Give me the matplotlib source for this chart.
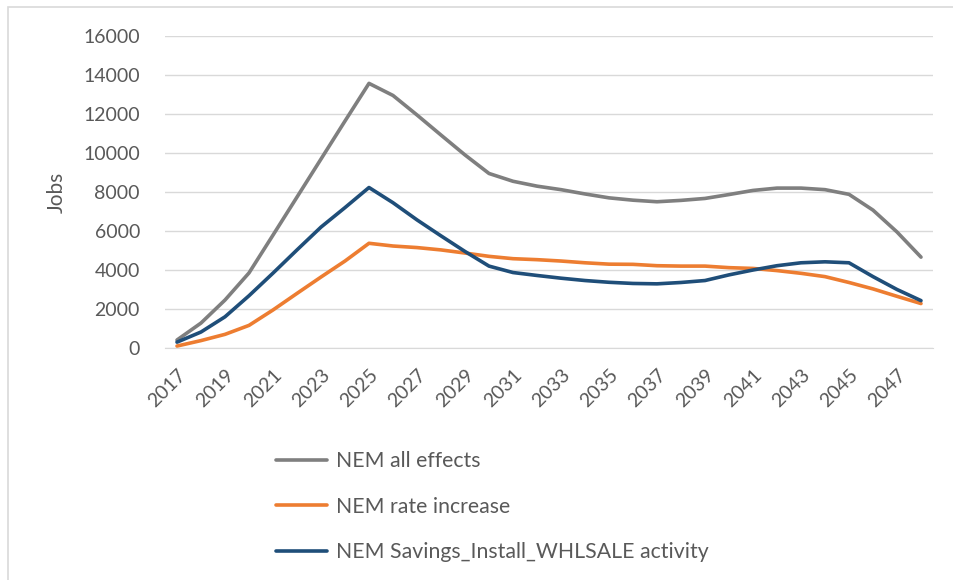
import matplotlib.pyplot as plt
import matplotlib.patches as patches
import numpy as np

years = list(range(2017, 2049))

all_effects = [410, 1280, 2460, 3850, 5790, 7740, 9690, 11640, 13570, 12950,
               11950, 10920, 9900, 8950, 8550, 8300, 8120, 7900, 7700, 7580,
               7500, 7570, 7670, 7870, 8080, 8200, 8200, 8120, 7880, 7070,
               5950, 4660]
rate_increase = [100, 380, 700, 1160, 1950, 2800, 3640, 4460, 5370, 5230,
                 5150, 5030, 4870, 4700, 4580, 4530, 4460, 4370, 4300, 4290,
                 4220, 4200, 4200, 4120, 4080, 3970, 3830, 3660, 3360, 3030,
                 2650, 2280]
savings_install = [300, 820, 1600, 2680, 3840, 5030, 6200, 7200, 8230, 7450,
                   6570, 5750, 4950, 4200, 3870, 3720, 3580, 3460, 3370, 3310,
                   3290, 3360, 3460, 3750, 4000, 4220, 4370, 4420, 4370, 3660,
                   3000, 2430]

labels = ['NEM all effects', 'NEM rate increase',
          'NEM Savings_Install_WHLSALE activity']
colors = ['#7f7f7f', '#ed7d31', '#1f4e79']

plt.rcParams['font.family'] = ['Lato', 'DejaVu Sans']

fig = plt.figure(figsize=(9.54, 5.80), dpi=100)
ax = fig.add_axes([165 / 954, 1 - 348 / 580, 768 / 954, 312 / 580])

for vals, lab, col in zip([all_effects, rate_increase, savings_install], labels, colors):
    ax.plot(years, vals, color=col, linewidth=2.6, label=lab,
            solid_joinstyle='round', solid_capstyle='round')

ax.set_xlim(2016.5, 2048.5)
ax.set_ylim(0, 16000)
ax.set_yticks(np.arange(0, 16001, 2000))
ax.set_xticks(years[::2])
ax.set_xticklabels([str(y) for y in years[::2]], rotation=45, ha='right',
                   rotation_mode='anchor')
ax.grid(axis='y', color='#d9d9d9', linewidth=1)
ax.set_axisbelow(True)
for s in ['top', 'right', 'left']:
    ax.spines[s].set_visible(False)
ax.spines['bottom'].set_color('#d9d9d9')
ax.tick_params(axis='both', length=0, labelsize=14, labelcolor='#595959')
ax.tick_params(axis='y', pad=18)
ax.tick_params(axis='x', pad=13)
ax.set_ylabel('Jobs', fontsize=15, color='#595959', labelpad=12)

fig.legend(loc='upper left', bbox_to_anchor=(257 / 954, 1 - 432 / 580),
           frameon=False, fontsize=15.3, labelcolor='#595959',
           handlelength=2.4, handletextpad=0.4, labelspacing=1.2)

# light chart border
fig.add_artist(patches.Rectangle((8 / 954, -0.1), 1.1, 1 - 7 / 580 + 0.1,
                                 transform=fig.transFigure, fill=False,
                                 edgecolor='#d9d9d9', linewidth=1.2))

fig.savefig('out.png', dpi=100)
